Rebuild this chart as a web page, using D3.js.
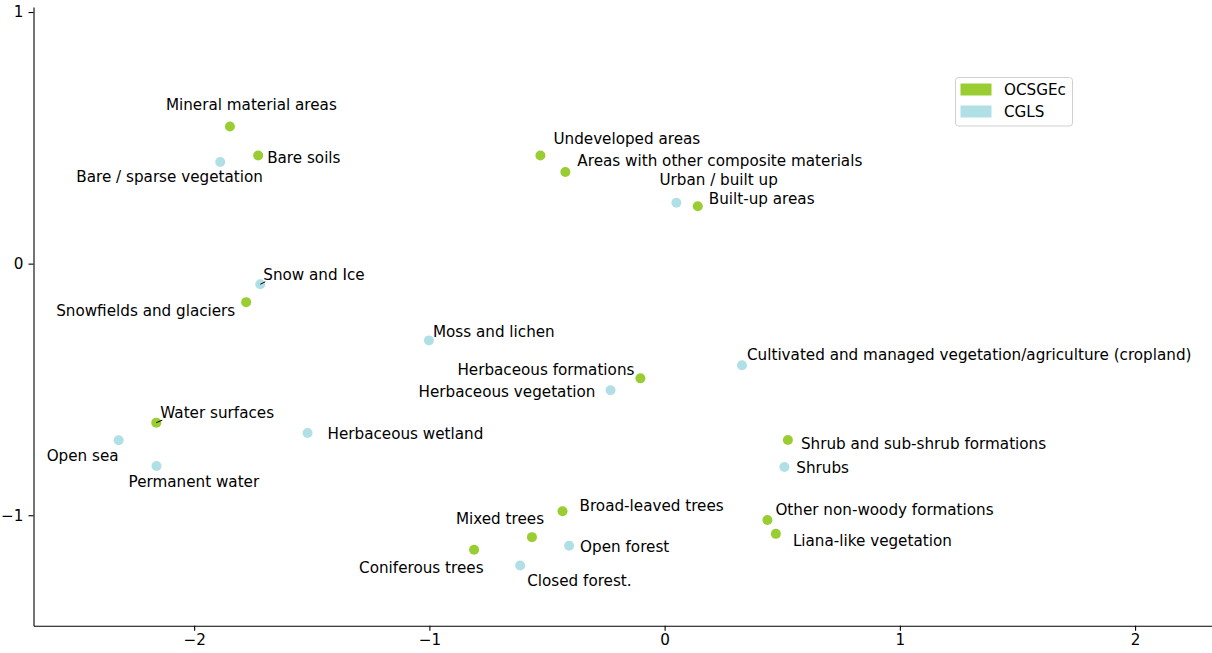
<!DOCTYPE html>
<html><head><meta charset="utf-8">
<script src="https://cdn.jsdelivr.net/npm/d3@7"></script>
<style>body{margin:0;background:#fff}svg{display:block}</style>
</head><body><svg id="c" width="1212" height="653"></svg>
<script>
// ---- data ----
const seriesNames = ["OCSGEc", "CGLS"];
const ocsgeLabels = ["Mineral material areas","Bare soils","Undeveloped areas","Areas with other composite materials","Built-up areas","Snowfields and glaciers","Herbaceous formations","Water surfaces","Shrub and sub-shrub formations","Broad-leaved trees","Mixed trees","Coniferous trees","Other non-woody formations","Liana-like vegetation"];
const ocsgeX = [-1.848,-1.728,-0.528,-0.422,0.141,-1.779,-0.103,-2.161,0.524,-0.434,-0.564,-0.810,0.437,0.473];
const ocsgeY = [0.545,0.430,0.430,0.364,0.228,-0.153,-0.456,-0.632,-0.701,-0.984,-1.087,-1.137,-1.019,-1.074];
const cglsLabels = ["Bare / sparse vegetation","Urban / built up","Snow and Ice","Moss and lichen","Cultivated and managed vegetation/agriculture (cropland)","Herbaceous vegetation","Herbaceous wetland","Open sea","Permanent water","Shrubs","Open forest","Closed forest."];
const cglsX = [-1.889,0.050,-1.719,-1.002,0.329,-0.230,-1.518,-2.321,-2.160,0.509,-0.406,-0.614];
const cglsY = [0.404,0.242,-0.082,-0.305,-0.404,-0.503,-0.673,-0.702,-0.804,-0.808,-1.121,-1.200];
const xTicks = [-2,-1,0,1,2];
const yTicks = [-1,0,1];

// ---- layout (label offsets in px from the point: left edge, vertical centre) ----
const ocsgeLabelOffsets = [[-64,-22],[9,2],[13,-17],[12,-11],[11,-8],[-190,9],[-183,-9],[4,-10],[13,4],[17,-6],[-76,-18],[-115,18],[8,-10],[17,7]];
const cglsLabelOffsets = [[-144,15],[-17,-23],[3,-10],[4,-9],[5,-11],[-192,1],[20,1],[-72,15],[-28,16],[12,1],[11,1],[7,15]];
const ocsgeLeader = [false,false,false,false,false,false,false,true,false,false,false,false,false,false];
const cglsLeader = [false,false,true,false,false,false,false,false,false,false,false,false];
const colors = ["#9acd32", "#b0e0e6"];
const FONT = "DejaVu Sans, sans-serif";
const FS = 15.2;

const svg = d3.select("#c");
const x = d3.scaleLinear().domain([-2.683, 2.327]).range([33.5, 1212]);
const y = d3.scaleLinear().domain([-1.439, 1.02]).range([625.7, 7]);
const fmt = d3.format("d");

const xAxis = svg.append("g").attr("transform", `translate(0,${y.range()[0]})`)
  .call(d3.axisBottom(x).tickValues(xTicks).tickFormat(fmt).tickSize(5).tickSizeOuter(0).tickPadding(4));
const yAxis = svg.append("g").attr("transform", `translate(${x.range()[0]},0)`)
  .call(d3.axisLeft(y).tickValues(yTicks).tickFormat(fmt).tickSize(5).tickSizeOuter(0).tickPadding(5));
[xAxis, yAxis].forEach(g => {
  g.selectAll("path.domain").attr("stroke", "#000").attr("stroke-width", 1.1);
  g.selectAll(".tick line").attr("stroke", "#000").attr("stroke-width", 1.1);
  g.selectAll(".tick text").attr("font-family", FONT).attr("font-size", FS).attr("fill", "#000");
});

function build(labels, xs, ys, offs, leaders, color) {
  return labels.map((l, i) => ({label: l, x: xs[i], y: ys[i], dx: offs[i][0], dy: offs[i][1], leader: leaders[i], color}));
}
const pts = build(ocsgeLabels, ocsgeX, ocsgeY, ocsgeLabelOffsets, ocsgeLeader, colors[0])
  .concat(build(cglsLabels, cglsX, cglsY, cglsLabelOffsets, cglsLeader, colors[1]));

svg.append("g").selectAll("circle").data(pts).join("circle")
  .attr("cx", d => x(d.x)).attr("cy", d => y(d.y)).attr("r", 5).attr("fill", d => d.color);

svg.append("g").selectAll("line").data(pts.filter(d => d.leader)).join("line")
  .attr("x1", d => x(d.x)).attr("y1", d => y(d.y))
  .attr("x2", d => x(d.x) + d.dx + 2).attr("y2", d => y(d.y) + d.dy + 7.5)
  .attr("stroke", "#000").attr("stroke-width", 1);

svg.append("g").selectAll("text").data(pts).join("text")
  .attr("x", d => x(d.x) + d.dx).attr("y", d => y(d.y) + d.dy)
  .attr("dy", "0.35em")
  .attr("font-family", FONT).attr("font-size", FS).attr("fill", "#000")
  .text(d => d.label);

// legend
const lg = svg.append("g").attr("transform", "translate(955.5,77.5)");
lg.append("rect").attr("width", 117).attr("height", 48.5).attr("rx", 3)
  .attr("fill", "#fff").attr("stroke", "#d0d0d0").attr("stroke-width", 1);
seriesNames.forEach((n, i) => {
  lg.append("rect").attr("x", 5).attr("y", 6 + i * 22).attr("width", 31).attr("height", 12).attr("fill", colors[i]);
  lg.append("text").attr("x", 48.5).attr("y", 12 + i * 22).attr("dy", "0.35em")
    .attr("font-family", FONT).attr("font-size", FS).attr("fill", "#000").text(n);
});
</script></body></html>
